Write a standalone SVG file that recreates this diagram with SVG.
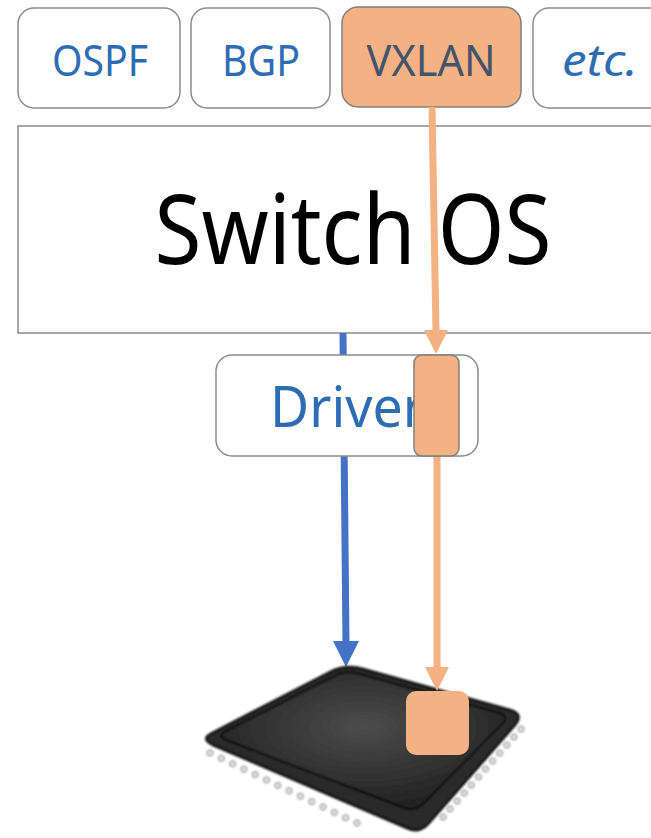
<svg xmlns="http://www.w3.org/2000/svg" width="651" height="838" viewBox="0 0 651 838">
  <style>
    .box { fill: #ffffff; stroke: #8c8c8c; stroke-width: 1.5; }
    .hl { fill: #f4b183; stroke: #7f7f7f; stroke-width: 1.5; }
    .lbl { font-family: "Noto Sans", "Open Sans", sans-serif; font-size: 43px; fill: #2e6db4; text-anchor: middle; }
    .blue { stroke: #4472c4; stroke-width: 7; fill: none; }
    .orange { stroke: #f4b183; stroke-width: 7; fill: none; }
    .pin { fill: #e2e2e2; stroke: #7a7a7a; stroke-width: 1; }
  </style>
  <defs>
    <radialGradient id="chipTop" cx="0.5" cy="0.4" r="0.7">
      <stop offset="0" stop-color="#4c4c4c"/>
      <stop offset="0.6" stop-color="#2e2e2e"/>
      <stop offset="1" stop-color="#1a1a1a"/>
    </radialGradient>
    <filter id="soft" x="-10%" y="-10%" width="120%" height="120%">
      <feGaussianBlur stdDeviation="1.1"/>
    </filter>
  </defs>

  <!-- protocol modules -->
  <g id="ospf">
    <rect class="box" x="18" y="8" width="162" height="100" rx="16"/>
    <text class="lbl" x="100" y="76" textLength="96" lengthAdjust="spacingAndGlyphs">OSPF</text>
  </g>
  <g id="bgp">
    <rect class="box" x="191" y="8" width="139" height="100" rx="16"/>
    <text class="lbl" x="261" y="76" textLength="78" lengthAdjust="spacingAndGlyphs">BGP</text>
  </g>
  <g id="vxlan">
    <rect class="hl" x="342" y="7" width="179" height="100" rx="16"/>
    <text class="lbl" x="431" y="76" style="fill:#44546a" textLength="129" lengthAdjust="spacingAndGlyphs">VXLAN</text>
  </g>
  <g id="etc">
    <rect class="box" x="533" y="8" width="140" height="100" rx="16"/>
    <text class="lbl" x="600" y="76" font-style="italic" textLength="76" lengthAdjust="spacingAndGlyphs">etc.</text>
  </g>

  <!-- operating system layer -->
  <g id="switch-os">
    <rect class="box" x="18" y="126" width="660" height="207"/>
    <text x="353" y="264" font-family="Noto Sans, Open Sans, sans-serif" font-size="96" fill="#000000" text-anchor="middle" textLength="397" lengthAdjust="spacingAndGlyphs">Switch OS</text>
  </g>

  <!-- connectors -->
  <g id="connectors">
    <line class="blue" x1="343" y1="333" x2="346" y2="645"/>
    <path d="M333,641 L359,641 L346,667 z" fill="#4472c4"/>
    <line class="orange" x1="432" y1="107" x2="436" y2="332"/>
    <path d="M424,330 L448,330 L436,354 z" fill="#f4b183"/>
    <line class="orange" x1="437" y1="456" x2="437" y2="670"/>
  </g>

  <!-- driver layer -->
  <g id="driver">
    <rect class="box" x="216" y="355" width="262" height="101" rx="16"/>
    <text x="270" y="427" font-family="Noto Sans, Open Sans, sans-serif" font-size="56" fill="#2e6db4" textLength="155" lengthAdjust="spacingAndGlyphs">Driver</text>
    <rect class="hl" x="414" y="355" width="45" height="101" rx="8"/>
  </g>

  <!-- switching chip -->
  <g id="chip">
    <g filter="url(#soft)">
      <!-- pins, front-left row -->
      <g class="pin">
        <circle cx="210" cy="753" r="3"/>
        <circle cx="221.3" cy="758.4" r="3"/>
        <circle cx="232.6" cy="763.8" r="3"/>
        <circle cx="243.9" cy="769.2" r="3"/>
        <circle cx="255.2" cy="774.6" r="3"/>
        <circle cx="266.5" cy="780" r="3"/>
        <circle cx="277.8" cy="785.4" r="3"/>
        <circle cx="289.1" cy="790.8" r="3"/>
        <circle cx="300.4" cy="796.2" r="3"/>
        <circle cx="311.7" cy="801.6" r="3"/>
        <circle cx="323" cy="807" r="3"/>
        <circle cx="334.3" cy="812.4" r="3"/>
        <circle cx="345.6" cy="817.8" r="3"/>
        <circle cx="357" cy="823" r="3"/>
      </g>
      <!-- pins, front-right row -->
      <g class="pin">
        <circle cx="521" cy="729" r="3"/>
        <circle cx="513.9" cy="737" r="3"/>
        <circle cx="506.8" cy="745" r="3"/>
        <circle cx="499.7" cy="753" r="3"/>
        <circle cx="492.6" cy="761" r="3"/>
        <circle cx="485.5" cy="769" r="3"/>
        <circle cx="478.4" cy="777" r="3"/>
        <circle cx="471.3" cy="785" r="3"/>
        <circle cx="464.2" cy="793" r="3"/>
        <circle cx="457.1" cy="801" r="3"/>
        <circle cx="450" cy="809" r="3"/>
        <circle cx="443" cy="817" r="3"/>
      </g>
      <!-- package body -->
      <path d="M330,672 Q346,664 363,669 L510,710 Q524,714 515,725 L429,823 Q420,834 407,828 L213,745 Q200,739 212,733 Z" fill="#2a2a2a" stroke="#0c0c0c" stroke-width="2.5"/>
      <!-- top face -->
      <path d="M333.5,676.3 Q346,670 359.5,673.8 L498.5,712.8 Q510,716 501.6,724.5 L423.4,803.5 Q415,812 403.8,807.7 L227.2,740.3 Q216,736 226.7,730.6 Z" fill="url(#chipTop)" stroke="#080808" stroke-width="2"/>
    </g>
    <rect class="hl" x="406" y="691" width="63" height="64" rx="10" style="stroke:none"/>
  </g>
  <path d="M425,667 L449,667 L437,691 z" fill="#f4b183"/>
</svg>
